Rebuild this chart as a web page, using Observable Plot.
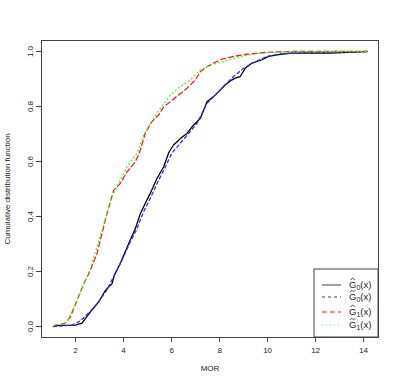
<!DOCTYPE html>
<html>
<head>
<meta charset="utf-8">
<script src="https://cdn.jsdelivr.net/npm/d3@7"></script>
<script src="https://cdn.jsdelivr.net/npm/@observablehq/plot@0.6"></script>
<style>
  html, body { margin: 0; padding: 0; background: #fff; }
  svg { font-family: "Liberation Sans", Arial, sans-serif; }
</style>
</head>
<body>
<div id="chart"></div>
<script>
// ---- data ----
const xTicks = [2, 4, 6, 8, 10, 12, 14];
const yTicks = [0, 0.2, 0.4, 0.6, 0.8, 1.0];

const g0hatX = [1.08, 1.99, 2.27, 2.61, 2.96, 3.24, 3.52, 3.61, 3.86, 4.21, 4.49, 4.70, 4.90, 5.11, 5.39, 5.67, 5.88, 6.08, 6.43, 6.64, 6.92, 7.20, 7.48, 7.75, 7.96, 8.24, 8.52, 8.65, 8.86, 9.07, 9.35, 9.77, 10.04, 10.39, 10.95, 12.6, 14.14];
const g0hatY = [0.003, 0.005, 0.012, 0.052, 0.089, 0.131, 0.156, 0.186, 0.229, 0.301, 0.356, 0.411, 0.447, 0.484, 0.538, 0.581, 0.632, 0.660, 0.688, 0.702, 0.733, 0.757, 0.818, 0.836, 0.854, 0.879, 0.897, 0.903, 0.909, 0.939, 0.958, 0.970, 0.982, 0.988, 0.994, 0.994, 1.0];

const g0tilX = [1.08, 1.85, 2.20, 2.61, 2.96, 3.31, 3.65, 3.93, 4.28, 4.56, 4.83, 5.11, 5.46, 5.74, 6.01, 6.36, 6.71, 7.06, 7.48, 7.89, 8.24, 8.58, 9.00, 9.42, 9.98, 10.53, 11.6, 14.14];
const g0tilY = [0.0, 0.005, 0.02, 0.055, 0.089, 0.134, 0.192, 0.241, 0.308, 0.356, 0.417, 0.466, 0.532, 0.581, 0.630, 0.666, 0.702, 0.739, 0.812, 0.848, 0.879, 0.909, 0.939, 0.960, 0.982, 0.991, 0.996, 1.0];

const g1hatX = [1.08, 1.57, 1.78, 2.06, 2.34, 2.61, 2.89, 3.10, 3.31, 3.59, 3.86, 4.14, 4.49, 4.70, 4.90, 5.18, 5.46, 5.67, 5.95, 6.29, 6.64, 6.99, 7.20, 7.48, 7.75, 8.10, 8.58, 9.14, 9.97, 10.95, 14.14];
const g1hatY = [0.003, 0.012, 0.034, 0.095, 0.155, 0.204, 0.265, 0.338, 0.411, 0.496, 0.520, 0.562, 0.599, 0.642, 0.702, 0.745, 0.769, 0.799, 0.818, 0.842, 0.866, 0.897, 0.927, 0.945, 0.958, 0.972, 0.982, 0.990, 0.997, 1.0, 1.0];

const g1tilX = [1.08, 1.64, 2.06, 2.61, 3.10, 3.45, 3.72, 4.14, 4.56, 4.83, 5.11, 5.53, 5.95, 6.36, 6.78, 7.20, 7.61, 8.17, 8.86, 9.70, 10.95, 14.14];
const g1tilY = [0.003, 0.016, 0.095, 0.210, 0.350, 0.460, 0.508, 0.581, 0.630, 0.696, 0.739, 0.793, 0.842, 0.872, 0.897, 0.933, 0.951, 0.964, 0.982, 0.994, 1.0, 1.0];

const seriesNames = ["G0hat", "G0tilde", "G1hat", "G1tilde"];
const seriesColors = ["#000000", "#2b2bff", "#ff1a1a", "#33ff33"];
const seriesDash = [null, "3,3", "5,3", "1,3"];
const legendAccent = ["hat", "tilde", "hat", "tilde"];
const legendSub = ["0", "0", "1", "1"];

const xs = [g0hatX, g0tilX, g1hatX, g1tilX];
const ys = [g0hatY, g0tilY, g1hatY, g1tilY];

const fmt = d3.format(".1f");

const lineMarks = seriesNames.map((name, i) => {
  const rows = xs[i].map((x, j) => ({x, y: ys[i][j]}));
  return Plot.line(rows, {
    x: "x", y: "y",
    stroke: seriesColors[i],
    strokeWidth: 1.3,
    strokeDasharray: seriesDash[i],
    strokeLinejoin: "round"
  });
});

const chart = Plot.plot({
  width: 400,
  height: 388,
  marginLeft: 41,
  marginRight: 22,
  marginTop: 40,
  marginBottom: 51,
  style: {fontFamily: "Liberation Sans, Arial, sans-serif", fontSize: "8px", background: "#fff"},
  x: {domain: [0.58, 14.62]},
  y: {domain: [-0.04, 1.04]},
  marks: [
    Plot.frame({stroke: "#444", strokeWidth: 1}),
    ...lineMarks,
    Plot.axisX({ticks: xTicks, tickSize: 5, tickPadding: 5, tickFormat: d => String(d),
      label: "MOR", labelAnchor: "center", labelArrow: "none", labelOffset: 33,
      stroke: "#444", fill: "#222", fontSize: 8}),
    Plot.axisY({ticks: yTicks, tickSize: 5, tickFormat: () => "",
      label: "Cumulative distribution function", labelAnchor: "center", labelArrow: "none", labelOffset: 37,
      stroke: "#444", fill: "#222", fontSize: 8}),
    Plot.text(yTicks, {y: d => d, frameAnchor: "left", dx: -11, rotate: -90,
      textAnchor: "middle", lineAnchor: "middle", text: d => fmt(d), fill: "#222", fontSize: 8})
  ]
});

document.getElementById("chart").appendChild(chart);

// ---- legend (bottom-right, inside plot frame) ----
const svg = d3.select(chart);
const xS = chart.scale("x"), yS = chart.scale("y");
const right = xS.apply(14.62), bottom = yS.apply(-0.04);
const lw = 64, lh = 68;
const lg = svg.append("g").attr("transform", `translate(${right - lw},${bottom - lh})`)
  .attr("font-family", "Liberation Sans, Arial, sans-serif")
  .attr("text-anchor", "start");
lg.append("rect").attr("width", lw).attr("height", lh).attr("fill", "#fff").attr("stroke", "#444");
const rowY = [16, 28, 43, 56];
seriesNames.forEach((name, i) => {
  const y = rowY[i];
  lg.append("line").attr("x1", 8).attr("x2", 27).attr("y1", y).attr("y2", y)
    .attr("stroke", i === 0 ? "#888" : seriesColors[i]).attr("stroke-width", i === 0 ? 1.6 : 1.2)
    .attr("stroke-dasharray", seriesDash[i]);
  const t = lg.append("text").attr("x", 35).attr("y", y).attr("dy", "0.35em")
    .attr("text-anchor", "start")
    .attr("font-size", 9.5).attr("fill", "#222");
  t.append("tspan").text("G");
  t.append("tspan").attr("font-size", 7).attr("dy", "2").text(legendSub[i]);
  t.append("tspan").attr("dy", "-2").text("(x)");
  // accent drawn above the G (plotmath-style hat / tilde)
  const cx = 38.7, top = y - 4;
  const d = legendAccent[i] === "hat"
    ? `M${cx - 2},${top - 1} L${cx},${top - 3.2} L${cx + 2},${top - 1}`
    : `M${cx - 2.4},${top - 1.2} C${cx - 1.4},${top - 3.2} ${cx - 0.2},${top - 2.6} ${cx},${top - 2} S${cx + 1.4},${top - 0.8} ${cx + 2.4},${top - 2.8}`;
  lg.append("path").attr("d", d).attr("fill", "none").attr("stroke", "#222").attr("stroke-width", 0.8);
});
</script>
</body>
</html>
